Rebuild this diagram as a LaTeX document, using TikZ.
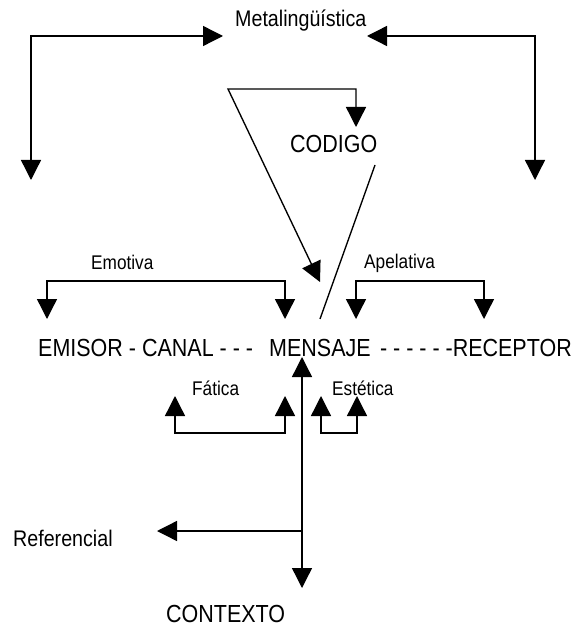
\documentclass[tikz,border=0pt]{standalone}
\usepackage{fontspec}
\setmainfont{Liberation Sans}[FakeStretch=0.87]
\usetikzlibrary{arrows.meta}
\begin{document}
\begin{tikzpicture}[x=1pt,y=-1pt,
  conn/.style={line width=1.35pt, black},
  tip/.style={-{Triangle[length=20pt,width=20pt]}},
  tips/.style={{Triangle[length=20pt,width=20pt]}-{Triangle[length=20pt,width=20pt]}},
  bigtxt/.style={inner sep=0pt, font=\fontsize{24.7}{30}\selectfont},
  labtxt/.style={inner sep=0pt, font=\fontsize{19.8}{24}\selectfont},
  labbig/.style={inner sep=0pt, font=\fontsize{22.6}{27}\selectfont}]
\useasboundingbox (0,0) rectangle (576,628);
% texts
\node[labbig, anchor=base west] (meta) at (235,27) {Metalingüística};
\node[bigtxt, anchor=base west] (codigo) at (290,153) {CODIGO};
\node[labtxt, anchor=base west] (emotiva) at (91,269) {Emotiva};
\node[labtxt, anchor=base west] (apelativa) at (364,268) {Apelativa};
\node[bigtxt, anchor=base west] (emisor) at (38,356) {EMISOR - CANAL - - -};
\node[bigtxt, anchor=base west] (mensaje) at (269,356) {MENSAJE};
\node[bigtxt, anchor=base east] (receptor) at (572,356) {- - - - - -RECEPTOR};
\node[labtxt, anchor=base west] (fatica) at (192,395) {Fática};
\node[labtxt, anchor=base west] (estetica) at (332,395) {Estética};
\node[labbig, anchor=base west] (referencial) at (13,546) {Referencial};
\node[bigtxt, anchor=base west] (contexto) at (166,622) {CONTEXTO};
% coordinates
\coordinate (mlL) at (31,180);
\coordinate (mlLt) at (223,36);
\coordinate (mlR) at (535,180);
\coordinate (mlRt) at (367,36);
\coordinate (trA) at (228,89);
\coordinate (trB) at (356,127);
\coordinate (trC) at (320,282);
\coordinate (slA) at (375,165);
\coordinate (slB) at (320,319);
\coordinate (emL) at (47,319);
\coordinate (emR) at (285,319);
\coordinate (apL) at (356,319);
\coordinate (apR) at (484,319);
\coordinate (faL) at (175,396);
\coordinate (faR) at (285,396);
\coordinate (esL) at (321,396);
\coordinate (esR) at (357,396);
\coordinate (vTop) at (302,357);
\coordinate (vBot) at (302,588);
\coordinate (vRef) at (302,531);
\coordinate (refT) at (157,531);
% connectors
\draw[conn,tips] (mlL) |- (mlLt);
\draw[conn,tips] (mlR) |- (mlRt);
\draw[conn,tips] (trC) -- (trA) -| (trB);
\draw[conn] (slA) -- (slB);
\draw[conn,tips] (emL) -- ++(0,-38) -| (emR);
\draw[conn,tips] (apL) -- ++(0,-38) -| (apR);
\draw[conn,tips] (faL) -- ++(0,37) -| (faR);
\draw[conn,tips] (esL) -- ++(0,37) -| (esR);
\draw[conn,tips] (vTop) -- (vBot);
\draw[conn,tip] (vRef) -- (refT);
\end{tikzpicture}
\end{document}
